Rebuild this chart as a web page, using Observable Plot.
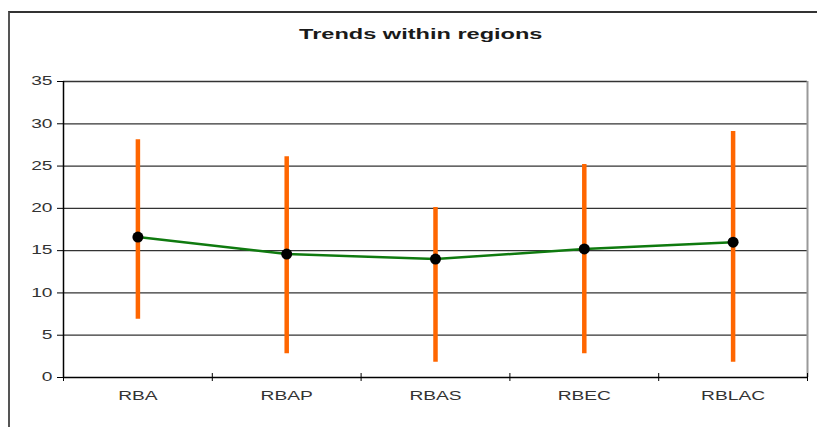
<!DOCTYPE html>
<html>
<head>
<meta charset="utf-8">
<script src="https://cdn.jsdelivr.net/npm/d3@7"></script>
<script src="https://cdn.jsdelivr.net/npm/@observablehq/plot@0.6"></script>
<style>
  html, body { margin: 0; padding: 0; background: #fff; overflow: hidden; }
  #wrap { position: relative; width: 817px; height: 427px; overflow: hidden; }
  #frame { position: absolute; left: 8px; top: 11px; width: 900px; height: 500px;
           border-left: 2px solid #555; border-top: 2px solid #333; }
  #title { position: absolute; left: 0; width: 841px; top: 25px; text-align: center;
           font-family: "Liberation Sans", Arial, sans-serif; font-weight: bold; font-size: 15px;
           color: #1a1a1a; transform: scaleX(1.57); transform-origin: 420px 0; }
  #chart { position: absolute; left: 0; top: 0; }
</style>
</head>
<body>
<div id="wrap">
  <div id="frame"></div>
  <div id="title">Trends within regions</div>
  <div id="chart"></div>
</div>
<script>
const categories = ["RBA", "RBAP", "RBAS", "RBEC", "RBLAC"];
const means = [16.6, 14.6, 14.0, 15.2, 16.0];
const mins = [6.9, 2.8, 1.8, 2.8, 1.8];
const maxs = [28.1, 26.1, 20.1, 25.2, 29.1];
const yTicks = [0, 5, 10, 15, 20, 25, 30, 35];

const data = categories.map((c, i) => ({region: c, pos: i + 0.5, mean: means[i], min: mins[i], max: maxs[i]}));
const boundaries = d3.range(categories.length + 1);

const chart = Plot.plot({
  width: 817,
  height: 427,
  marginLeft: 63,
  marginRight: 10,
  marginTop: 81,
  marginBottom: 50,
  x: {domain: [0, categories.length]},
  y: {domain: [0, 35]},
  style: {fontFamily: "'Liberation Sans', Arial, sans-serif", fontSize: "12px", background: "transparent", color: "#000"},
  marks: [
    Plot.ruleY(yTicks.filter(t => t > 0), {stroke: "#333", strokeWidth: 1.3}),
    Plot.ruleX([categories.length], {stroke: "#999", strokeWidth: 2}),
    Plot.axisY({ticks: yTicks, tickSize: 6, tickPadding: 5, label: null, stroke: "#000", fill: "#333"}),
    Plot.axisX({ticks: boundaries, tickFormat: () => "", tickSize: 8, label: null, stroke: "#000", dy: -4}),
    Plot.axisX({ticks: data.map(d => d.pos), tickFormat: v => categories[Math.floor(v)], tickSize: 0, tickPadding: 14, label: null, fill: "#333"}),
    Plot.ruleX([0], {stroke: "#000", strokeWidth: 1.5}),
    Plot.ruleY([0], {stroke: "#000", strokeWidth: 1.5}),
    Plot.ruleX(data, {x: "pos", y1: "min", y2: "max", stroke: "#FF6600", strokeWidth: 4.5}),
    Plot.line(data, {x: "pos", y: "mean", stroke: "#0f7a0f", strokeWidth: 2.5}),
    Plot.dot(data, {x: "pos", y: "mean", r: 5.5, fill: "#000"})
  ]
});

// The reference's text is horizontally stretched; widen each label about its anchor.
chart.querySelectorAll("text").forEach(t => {
  const tr = t.getAttribute("transform") || "";
  t.setAttribute("transform", tr + " scale(1.6,1)");
});

document.getElementById("chart").appendChild(chart);
</script>
</body>
</html>
